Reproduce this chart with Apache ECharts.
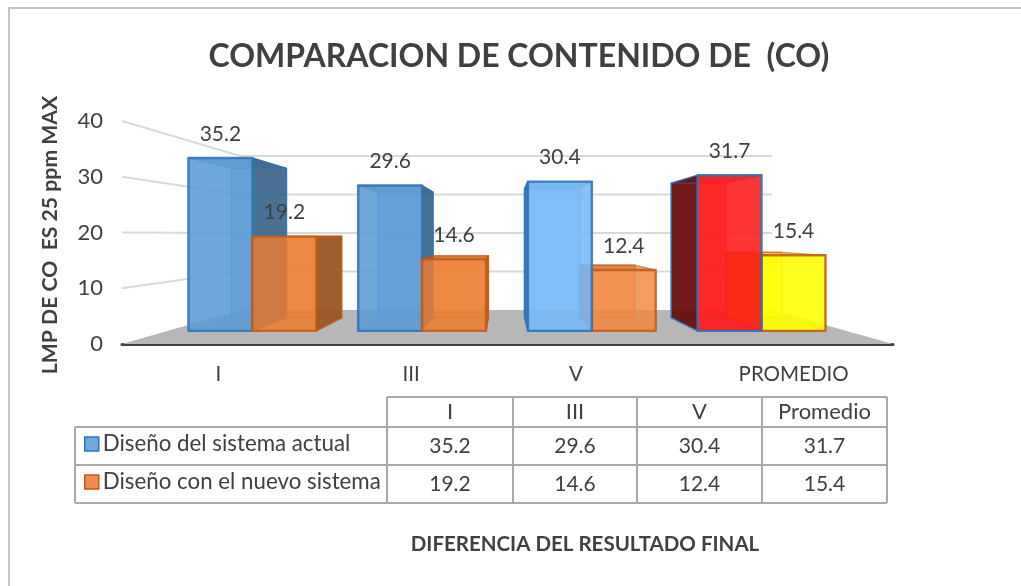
<!DOCTYPE html>
<html><head><meta charset="utf-8">
<style>html,body{margin:0;padding:0;background:#fff}#c{width:1021px;height:586px}</style>
<script src="https://cdn.jsdelivr.net/npm/echarts@6/dist/echarts.min.js"></script>
</head><body><div id="c"></div>
<script>
const categories = ['I','III','V','PROMEDIO'];
const tableHeaders = ['I','III','V','Promedio'];
const seriesNames = ['Diseño del sistema actual','Diseño con el nuevo sistema'];
const actual = [35.2,29.6,30.4,31.7];
const nuevo = [19.2,14.6,12.4,15.4];
const yTicks = [0,10,20,30,40];
// per-point looks
const actualFill = ['#5b9bd5','#5b9bd5','#79b8f7','#ff1a1a'];
const actualSide = ['#3a6488','#3a6488','#2f6fa8','#5c0a0a'];
const nuevoFill = ['#ed7d31','#ed7d31','#f2873f','#ffff00'];
const nuevoSide = ['#945020','#b35a18','#b85c1a','#c9a000'];
const actualEdge = '#2e75b6', nuevoEdge = '#c55a11';
// perspective
const VX = 503, VY = 234, S_FRONT = 0.8806, S_BACK = 0.761, S_WALL = 0.69, BAR = 0.3766;
const font = 'Lato, "Open Sans", sans-serif';
const ink = '#404040';
function proj(p, s){ return [VX + s*(p[0]-VX), VY + s*(p[1]-VY)]; }

function barRender(values, fills, sides, edge, sign){
  return function(params, api){
    const i = api.value(0), v = api.value(1);
    const band = api.size([1,0])[0];
    const c0 = api.coord([i,0]), c1 = api.coord([i,v]);
    const xa = c0[0], xb = c0[0] + sign*band*BAR;
    const L = Math.min(xa,xb), R = Math.max(xa,xb);
    const t = c1[1], b = c0[1];
    const f = (x,y)=>proj([x,y],S_FRONT), k = (x,y)=>proj([x,y],S_BACK);
    const front = [f(L,t),f(R,t),f(R,b),f(L,b)];
    const back = [k(L,t),k(R,t),k(R,b),k(L,b)];
    const top = [f(L,t),f(R,t),k(R,t),k(L,t)];
    const bottom = [f(L,b),f(R,b),k(R,b),k(L,b)];
    const left = [f(L,t),k(L,t),k(L,b),f(L,b)];
    const right = [f(R,t),k(R,t),k(R,b),f(R,b)];
    const isLeftCat = i < 2;
    const z = ((sign>0) === isLeftCat) ? 20 : 10;
    const fill = fills[i], side = sides[i];
    const frontOp = (sign>0 && i<3) ? 0.82 : 0.88;
    const poly = (pts,col,op,lw,st,zz)=>({type:'polygon',shape:{points:pts},z2:z+zz,
      style:{fill:col,opacity:op,stroke:st,lineWidth:lw,lineJoin:'round'}});
    const kids = [
      poly(back,fill,0.5,1.5,edge,0),
      poly(bottom,fill,0.3,1.2,edge,1),
      poly(isLeftCat?right:left,side,0.88,1.5,edge,2),
      poly(top,side,0.55,1.2,edge,3),
      poly(front,fill,frontOp,2.4,edge,4),
      {type:'text',z2:60,style:{text:String(v),x:(f(L,t)[0]+f(R,t)[0])/2,y:f(L,t)[1]-24,
        align:'center',verticalAlign:'middle',fontFamily:font,fontSize:21,fill:ink}}
    ];
    return {type:'group',children:kids};
  };
}
function wallRender(params, api){
  const band = api.size([1,0])[0];
  const l0 = api.coord([0,0]); const xL = l0[0]-band/2, xR = api.coord([categories.length-1,0])[0]+band/2;
  const els = [];
  const b0 = api.coord([0,0])[1];
  els.push({type:'polygon',z2:1,shape:{points:[[xL,b0],[xR,b0],proj([xR,b0],S_WALL),proj([xL,b0],S_WALL)]},style:{fill:'#b7b7b7'}});
  yTicks.slice(1).forEach(t=>{
    const y = api.coord([0,t])[1];
    const a = [xL,y], m = proj([xL,y],S_WALL), n = proj([xR,y],S_WALL);
    els.push({type:'polyline',z2:2,shape:{points:[a,m,n]},style:{fill:'none',stroke:'#d9d9d9',lineWidth:2}});
  });
  return {type:'group',children:els};
}

const T = {l:75,c0:387,xs:[387,513,637,762,887],y:[397,427,465,503]};
const g = [];
const gl = (x1,y1,x2,y2)=>g.push({type:'line',shape:{x1,y1,x2,y2},style:{stroke:'#a9a9a9',lineWidth:2}});
gl(T.c0,T.y[0],T.xs[4],T.y[0]);
gl(T.l,T.y[1],T.xs[4],T.y[1]);
gl(T.l,T.y[2],T.xs[4],T.y[2]);
gl(T.l,T.y[3],T.xs[4],T.y[3]);
gl(T.l,T.y[1],T.l,T.y[3]);
T.xs.forEach(x=>gl(x,T.y[0],x,T.y[3]));
const cell=(text,x,y,size)=>g.push({type:'text',x,y,style:{text,align:'center',verticalAlign:'middle',fontFamily:font,fontSize:size,fill:ink}});
[tableHeaders,actual,nuevo].forEach((row,r)=>row.forEach((v,c)=>cell(String(v),(T.xs[c]+T.xs[c+1])/2,(T.y[r]+T.y[r+1])/2,r?21:22)));
g.push({type:'line',shape:{x1:9,y1:8,x2:9,y2:586},style:{stroke:'#c4c4c4',lineWidth:2}});
g.push({type:'line',shape:{x1:8,y1:8,x2:1021,y2:8},style:{stroke:'#c4c4c4',lineWidth:2}});
g.push({type:'text',x:585,y:544,style:{text:'DIFERENCIA DEL RESULTADO FINAL',align:'center',verticalAlign:'middle',fontFamily:font,fontSize:20.5,fontWeight:'bold',fill:ink}});

const chart = echarts.init(document.getElementById('c'),null,{renderer:'canvas'});
chart.setOption({
  animation:false,
  backgroundColor:'#fff',
  title:{text:'COMPARACION DE CONTENIDO DE  (CO)',left:514,top:36,textAlign:'center',
    textStyle:{fontFamily:font,fontSize:32,fontWeight:'bold',color:ink}},
  legend:{orient:'vertical',left:84,top:433,itemWidth:14,itemHeight:14,itemGap:16,padding:0,
    textStyle:{fontFamily:font,fontSize:22.3,color:ink,padding:[0,0,0,-1]},
    selectedMode:false,
    data:[
      {name:seriesNames[0],icon:'rect',itemStyle:{color:'#6fa8dc',borderColor:actualEdge,borderWidth:1.5}},
      {name:seriesNames[1],icon:'rect',itemStyle:{color:'#f08c4c',borderColor:nuevoEdge,borderWidth:1.5}}
    ]},
  grid:{left:122,right:128,top:121,bottom:242,containLabel:false},
  xAxis:{type:'category',
    data:categories.map(c=>c==='V'?{value:c,textStyle:{padding:[0,56,0,0]}}:(c==='PROMEDIO'?{value:c,textStyle:{padding:[0,6,0,0]}}:{value:c})),
    axisTick:{show:false},
    axisLine:{lineStyle:{color:'#404040',width:3}},
    axisLabel:{margin:20,fontFamily:font,fontSize:20.5,color:ink}},
  yAxis:{type:'value',min:0,max:40,interval:10,splitLine:{show:false},axisLine:{show:false},axisTick:{show:false},
    axisLabel:{margin:19,fontFamily:font,fontSize:22,color:ink},
    name:'LMP DE CO  ES 25 ppm MAX',nameLocation:'middle',nameGap:61,nameRotate:90,
    nameTextStyle:{fontFamily:font,fontSize:21.2,fontWeight:'bold',color:ink,padding:[0,5,0,0]}},
  graphic:g,
  series:[
    {type:'custom',name:'_fondo',silent:true,z:1,renderItem:wallRender,data:[[0,0]],encode:{x:0,y:1},clip:false},
    {type:'custom',name:seriesNames[0],z:2,renderItem:barRender(actual,actualFill,actualSide,actualEdge,-1),
      data:actual.map((v,i)=>[i,v]),encode:{x:0,y:1},clip:false,itemStyle:{color:'#6fa8dc'}},
    {type:'custom',name:seriesNames[1],z:2,renderItem:barRender(nuevo,nuevoFill,nuevoSide,nuevoEdge,1),
      data:nuevo.map((v,i)=>[i,v]),encode:{x:0,y:1},clip:false,itemStyle:{color:'#f08c4c'}}
  ]
});
</script></body></html>
